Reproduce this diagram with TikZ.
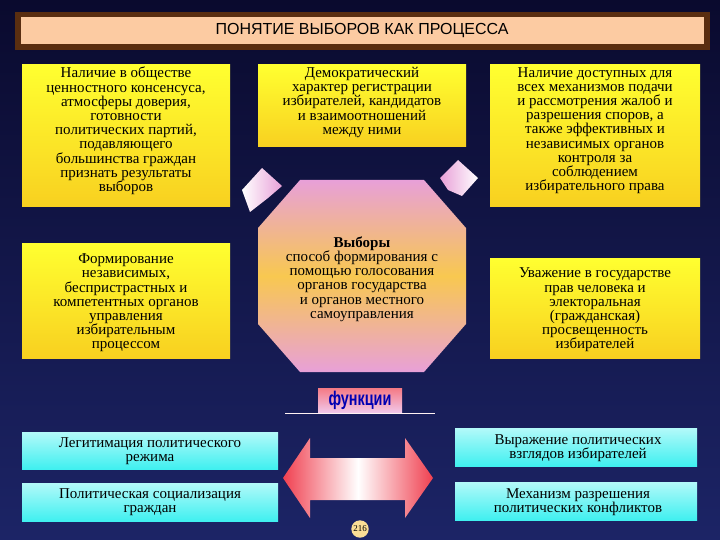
\documentclass[tikz,border=0pt]{standalone}
\usepackage{fontspec}
\setmainfont{Liberation Serif}
\newfontfamily\titlefont{Liberation Sans}
\usetikzlibrary{shapes.geometric}
\definecolor{navytop}{HTML}{0A0A2E}
\definecolor{navybot}{HTML}{1C2466}
\definecolor{peach}{HTML}{FCCBA2}
\definecolor{brownb}{HTML}{5A2E10}
\definecolor{ylw}{HTML}{FFFF30}
\definecolor{ylwb}{HTML}{F8D020}
\definecolor{cyn}{HTML}{40F0F0}
\definecolor{pinkoct}{HTML}{E8A0D8}
\definecolor{goldoct}{HTML}{F8C850}
\definecolor{redar}{HTML}{F04050}
\tikzset{
 txt/.style={align=center,font=\fontsize{15}{14.2}\selectfont,inner sep=1pt}
}
\begin{document}
\begin{tikzpicture}[x=1pt,y=-1pt]
\shade[top color=navytop,bottom color=navybot] (0,0) rectangle (720,540);
\useasboundingbox (0,0) rectangle (720,540);
% title
\fill[brownb] (15,12) rectangle (710,50);
\fill[peach] (21,17) rectangle (704,44);
\node (title) at (362,31) {\titlefont\fontsize{16}{16}\selectfont ПОНЯТИЕ ВЫБОРОВ КАК ПРОЦЕССА};
% yellow boxes
\shade[top color=ylw,bottom color=ylwb] (22,65) rectangle (230,207);
\node[txt,anchor=north] (a) at (126,66) {Наличие в обществе\\ценностного консенсуса,\\атмосферы доверия,\\готовности\\политических партий,\\подавляющего\\большинства граждан\\признать результаты\\выборов};
\shade[top color=ylw,bottom color=ylwb] (258,65) rectangle (466,147);
\node[txt,anchor=north] (b) at (362,66) {Демократический\\характер регистрации\\избирателей, кандидатов\\и взаимоотношений\\между ними};
\shade[top color=ylw,bottom color=ylwb] (490,65) rectangle (700,207);
\node[txt,anchor=north] (c) at (595,66) {Наличие доступных для\\всех механизмов подачи\\и рассмотрения жалоб и\\разрешения споров, а\\также эффективных и\\независимых органов\\контроля за\\соблюдением\\избирательного права};
\shade[top color=ylw,bottom color=ylwb] (22,243) rectangle (230,358);
\node[txt] (d) at (126,303) {Формирование\\независимых,\\беспристрастных и\\компетентных органов\\управления\\избирательным\\процессом};
\shade[top color=ylw,bottom color=ylwb] (490,258) rectangle (700,358);
\node[txt] (e) at (595,310) {Уважение в государстве\\прав человека и\\электоральная\\(гражданская)\\просвещенность\\избирателей};
% octagon
\shade[top color=pinkoct,bottom color=pinkoct,middle color=goldoct]
 (300,180) -- (424,180) -- (466,228) -- (466,324) -- (424,372) -- (300,372) -- (258,324) -- (258,228) -- cycle;
\node[txt] (oct) at (362,279) {\textbf{Выборы}\\способ формирования с\\помощью голосования\\органов государства\\и органов местного\\самоуправления};
% small arrow-like shapes
\shade[left color=white,right color=pinkoct] (242,190) -- (262,168) -- (282,186) -- (268,198) -- (250,212) -- cycle;
\shade[left color=pinkoct,right color=white] (440,178) -- (458,160) -- (478,178) -- (462,196) -- (448,190) -- cycle;
% functions banner
\draw[white!80!pink,line width=1pt] (285,413) -- (435,413);
\shade[top color=redar!70!white,bottom color=pinkoct!60!white] (318,388) rectangle (402,412);
\node (f) at (360,400) {\titlefont\bfseries\fontsize{18}{18}\selectfont\color{blue!70!black}\scalebox{0.8}[1.1]{функции}};
% cyan boxes
\shade[top color=cyn!40!white,bottom color=cyn] (22,432) rectangle (278,469);
\node[txt] (g) at (150,451) {Легитимация политического\\режима};
\shade[top color=cyn!40!white,bottom color=cyn] (22,483) rectangle (278,521);
\node[txt] (h) at (150,502) {Политическая социализация\\граждан};
\shade[top color=cyn!40!white,bottom color=cyn] (455,428) rectangle (697,466);
\node[txt] (i) at (578,448) {Выражение политических\\взглядов избирателей};
\shade[top color=cyn!40!white,bottom color=cyn] (455,482) rectangle (697,520);
\node[txt] (j) at (578,502) {Механизм разрешения\\политических конфликтов};
% double arrow
\shade[left color=redar,right color=redar,middle color=white]
 (283,478) -- (310,438) -- (310,458) -- (405,458) -- (405,438) -- (433,478) -- (405,518) -- (405,500) -- (310,500) -- (310,518) -- cycle;
% page number
\node[circle,fill=goldoct!60!white,inner sep=1pt,font=\fontsize{9}{9}\selectfont] (p) at (360,529) {216};
\end{tikzpicture}
\end{document}
